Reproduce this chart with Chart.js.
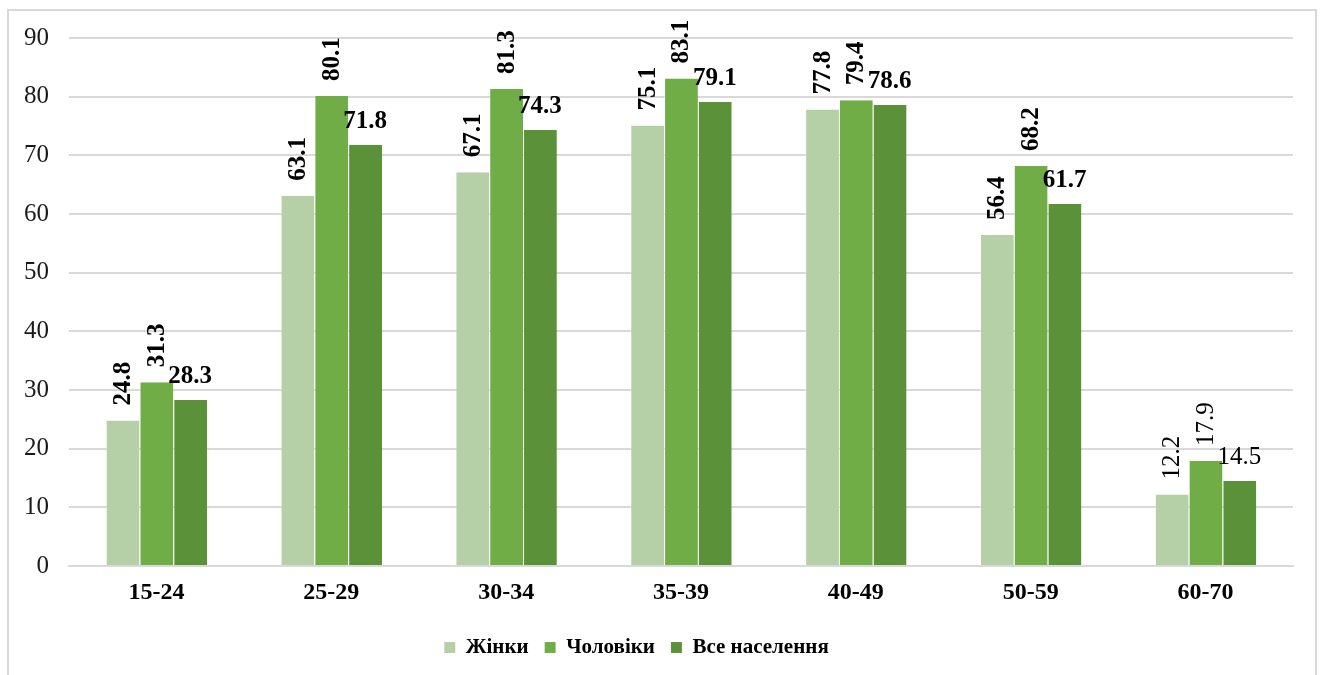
<!DOCTYPE html>
<html>
<head>
<meta charset="utf-8">
<script src="https://cdn.jsdelivr.net/npm/chart.js@4.4.0/dist/chart.umd.min.js"></script>
<style>
  html, body { margin: 0; padding: 0; background: #fff; }
  #frame {
    position: absolute; left: 7px; top: 9px; width: 1310px; height: 700px;
    border: 2px solid #d9d9d9; box-sizing: border-box;
  }
  #wrap { position: absolute; left: 0; top: 0; width: 1326px; height: 675px; }
</style>
</head>
<body>
<div id="frame"></div>
<div id="wrap"><canvas id="chart" width="1326" height="675"></canvas></div>
<script>
const AGE_GROUPS = ["15-24", "25-29", "30-34", "35-39", "40-49", "50-59", "60-70"];
const WOMEN = [24.8, 63.1, 67.1, 75.1, 77.8, 56.4, 12.2];
const MEN = [31.3, 80.1, 81.3, 83.1, 79.4, 68.2, 17.9];
const ALL = [28.3, 71.8, 74.3, 79.1, 78.6, 61.7, 14.5];
const SERIES_NAMES = ["Жінки", "Чоловіки", "Все населення"];
const Y_TICKS = [0, 10, 20, 30, 40, 50, 60, 70, 80, 90];

const COLORS = {
  women: "#b5cfa7",
  men: "#70ad47",
  all: "#5b9138",
};

const FONT = "'Liberation Serif', 'Times New Roman', serif";

// value labels: first two series rotated, the last one flat
const valueLabels = {
  id: "valueLabels",
  afterLayout(chart) {
    // the legend sits a bit left of centre in the original
    chart.legend.left -= 10;
    chart.legend.right -= 10;
  },
  afterDatasetsDraw(chart) {
    const ctx = chart.ctx;
    ctx.save();
    ctx.fillStyle = "#000";
    chart.data.datasets.forEach((ds, di) => {
      const meta = chart.getDatasetMeta(di);
      meta.data.forEach((bar, i) => {
        const txt = ds.data[i].toFixed(1);
        const weight = i === AGE_GROUPS.length - 1 ? "normal" : "bold";
        ctx.font = `${weight} 25px ${FONT}`;
        if (di < 2) {
          ctx.save();
          ctx.translate(bar.x + 1, bar.y - 15);
          ctx.rotate(-Math.PI / 2);
          ctx.textAlign = "left";
          ctx.textBaseline = "middle";
          ctx.fillText(txt, 0, 0);
          ctx.restore();
        } else {
          ctx.textAlign = "center";
          ctx.textBaseline = "alphabetic";
          ctx.fillText(txt, bar.x, bar.y - 17);
        }
      });
    });
    ctx.restore();
  },
};

const mkSet = (label, data, color) => ({
  label,
  data,
  backgroundColor: color,
  borderColor: "rgba(255,255,255,0.35)",
  borderWidth: { left: 1, right: 0, top: 0, bottom: 0 },
  barPercentage: 1,
  categoryPercentage: 0.58,
});

new Chart(document.getElementById("chart"), {
  type: "bar",
  data: {
    labels: AGE_GROUPS,
    datasets: [
      mkSet(SERIES_NAMES[0], WOMEN, COLORS.women),
      mkSet(SERIES_NAMES[1], MEN, COLORS.men),
      mkSet(SERIES_NAMES[2], ALL, COLORS.all),
    ],
  },
  options: {
    responsive: false,
    animation: false,
    layout: { padding: { left: 0, right: 33, top: 38, bottom: 7 } },
    plugins: {
      tooltip: { enabled: false },
      legend: {
        position: "bottom",
        labels: {
          font: { family: FONT, size: 21, weight: "bold" },
          color: "#000",
          boxWidth: 11,
          boxHeight: 11,
          padding: 16,
        },
      },
    },
    scales: {
      x: {
        grid: { display: false },
        border: { color: "#d9d9d9", width: 2 },
        ticks: {
          font: { family: FONT, size: 24, weight: "bold" },
          color: "#000",
          padding: 4,
        },
        afterFit: (s) => { s.height = 55; },
      },
      y: {
        min: 0,
        max: 90,
        afterBuildTicks: (s) => { s.ticks = Y_TICKS.map((v) => ({ value: v })); },
        grid: { color: "#d9d9d9", lineWidth: 2, drawTicks: false },
        border: { display: false },
        ticks: {
          font: { family: FONT, size: 25 },
          color: "#1a1a1a",
          padding: 20,
        },
        afterFit: (s) => { s.width = 69; },
      },
    },
  },
  plugins: [valueLabels],
});
</script>
</body>
</html>
